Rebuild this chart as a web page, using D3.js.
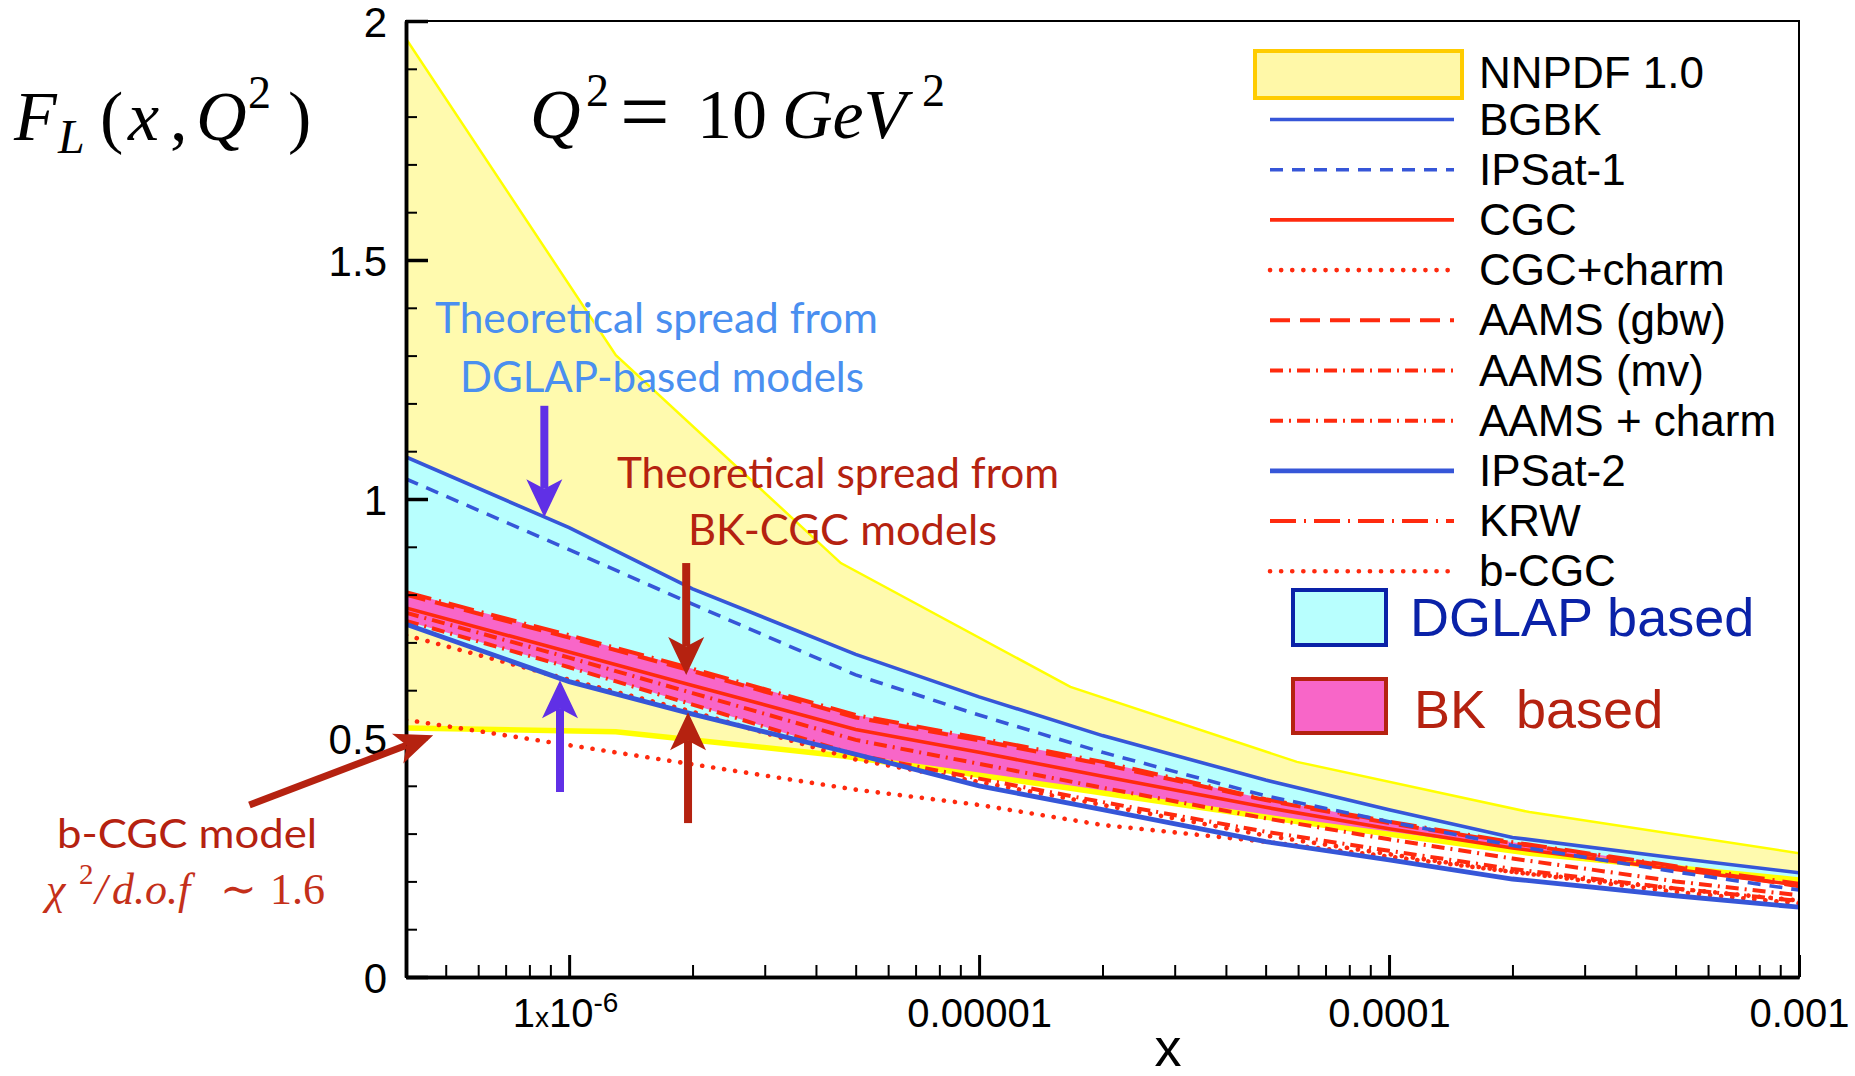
<!DOCTYPE html>
<html>
<head>
<meta charset="utf-8">
<script src="https://cdn.jsdelivr.net/npm/d3@7"></script>
<style>
  body { margin: 0; background: #fff; }
  svg { display: block; font-family: "Liberation Sans", Arial, sans-serif; }
</style>
</head>
<body>
<svg id="chart" width="1855" height="1076"></svg>
<script>
// ---- data ----
const xGrid = [4e-7, 1e-6, 2e-6, 5e-6, 1e-5, 2e-5, 5e-5, 1e-4, 2e-4, 5e-4, 1e-3];

const nnpdfX     = [4e-7, 1.3e-6, 4.6e-6, 1.67e-5, 5.96e-5, 2.2e-4, 1e-3];
const nnpdfUpper = [1.963, 1.301, 0.866, 0.607, 0.450, 0.345, 0.259];
const nnpdfLower = [0.521, 0.513, 0.463, 0.395, 0.325, 0.259, 0.203];

const bgbk      = [1.088, 0.940, 0.812, 0.675, 0.586, 0.505, 0.412, 0.350, 0.292, 0.249, 0.218];
const ipsat1    = [1.042, 0.894, 0.780, 0.632, 0.548, 0.470, 0.379, 0.325, 0.275, 0.220, 0.182];
const ipsat2    = [0.738, 0.618, 0.550, 0.466, 0.400, 0.350, 0.283, 0.245, 0.205, 0.170, 0.146];
const cgc       = [0.772, 0.680, 0.610, 0.518, 0.470, 0.420, 0.355, 0.310, 0.270, 0.225, 0.192];
const cgcCharm  = [0.715, 0.622, 0.555, 0.455, 0.408, 0.360, 0.296, 0.257, 0.220, 0.178, 0.154];
const aamsGbw   = [0.800, 0.710, 0.640, 0.543, 0.495, 0.445, 0.370, 0.322, 0.280, 0.230, 0.190];
const aamsMv    = [0.762, 0.668, 0.594, 0.496, 0.446, 0.396, 0.332, 0.288, 0.248, 0.200, 0.171];
const aamsCharm = [0.745, 0.648, 0.570, 0.465, 0.415, 0.366, 0.304, 0.264, 0.226, 0.185, 0.159];
const krw       = [0.805, 0.715, 0.645, 0.548, 0.500, 0.450, 0.372, 0.325, 0.282, 0.232, 0.195];
const bcgc      = [0.538, 0.485, 0.445, 0.392, 0.360, 0.318, 0.283, 0.252, 0.220, 0.185, 0.160];

const yTickLabels = ["0", "0.5", "1", "1.5", "2"];
const xTickLabels = ["1x10-6", "0.00001", "0.0001", "0.001"];
const legendLabels = ["BGBK", "IPSat-1", "CGC", "CGC+charm", "AAMS (gbw)", "AAMS (mv)",
                      "AAMS + charm", "IPSat-2", "KRW", "b-CGC"];

// arrows: x, tail value, tip value (data units)
const arrowsV = [
  {x: 8.7e-7, from: 1.195, to: 0.962, c: "#6030e6"},
  {x: 9.5e-7, from: 0.387, to: 0.621, c: "#6030e6"},
  {x: 1.93e-6, from: 0.866, to: 0.632, c: "#b52210"},
  {x: 1.95e-6, from: 0.322, to: 0.554, c: "#b52210"}
];

// ---- layout ----
const RED = "#ff2a0e", BLUE = "#3656d8";
const svg = d3.select("#chart");
const x = d3.scaleLog().domain([4e-7, 1e-3]).range([406, 1799]);
const y = d3.scaleLinear().domain([0, 2]).range([977, 21]);

svg.append("defs").append("clipPath").attr("id", "clip")
  .append("rect").attr("x", 406).attr("y", 21).attr("width", 1393).attr("height", 956);

const plot = svg.append("g").attr("clip-path", "url(#clip)");

const nn = nnpdfX.map((d, i) => ({x: d, lo: nnpdfLower[i], hi: nnpdfUpper[i]}));
const band = (hi, lo) => xGrid.map((d, i) => ({x: d, hi: hi[i], lo: lo[i]}));
const area = d3.area().x(d => x(d.x)).y0(d => y(d.lo)).y1(d => y(d.hi));

// NNPDF band
plot.append("path").attr("d", area(nn)).attr("fill", "#fffaae");
// DGLAP band
plot.append("path").attr("d", area(band(bgbk, ipsat2))).attr("fill", "#b8fffe");
// BK band
const bkSet = [cgc, aamsGbw, aamsMv, aamsCharm, krw];
const bkHi = xGrid.map((d, i) => d3.max(bkSet, s => s[i]));
const bkLo = xGrid.map((d, i) => d3.min(bkSet, s => s[i]));
plot.append("path").attr("d", area(band(bkHi, bkLo))).attr("fill", "#f866c8");
// white below NNPDF lower edge
plot.append("path")
  .attr("d", d3.area().x(d => x(d.x)).y0(y(0)).y1(d => y(d.lo))(nn))
  .attr("fill", "#fff");

const lineNN = key => d3.line().x(d => x(d.x)).y(d => y(d[key]))(nn);
plot.append("path").attr("d", lineNN("hi")).attr("fill", "none")
  .attr("stroke", "#ffff00").attr("stroke-width", 2.5);
plot.append("path").attr("d", lineNN("lo")).attr("fill", "none")
  .attr("stroke", "#ffff00").attr("stroke-width", 5.5);

const styles = [
  {s: bgbk,      c: BLUE, w: 3.6, dash: null},
  {s: ipsat1,    c: BLUE, w: 3.6, dash: "13,9"},
  {s: cgc,       c: RED,  w: 3.6, dash: null},
  {s: cgcCharm,  c: RED,  w: 4.6, dash: "0.1,11", cap: "round"},
  {s: aamsGbw,   c: RED,  w: 4,   dash: "20,10"},
  {s: aamsMv,    c: RED,  w: 4,   dash: "13,6,2,6"},
  {s: aamsCharm, c: RED,  w: 4,   dash: "13,6,2,6"},
  {s: ipsat2,    c: BLUE, w: 4.8, dash: null},
  {s: krw,       c: RED,  w: 4,   dash: "26,8,2,8"},
  {s: bcgc,      c: RED,  w: 4.6, dash: "0.1,11", cap: "round"}
];
const line = d3.line().x((d, i) => x(xGrid[i])).y(d => y(d));
const drawOrder = [3, 9, 4, 5, 6, 8, 2, 1, 0, 7];
drawOrder.forEach(k => {
  const st = styles[k];
  plot.append("path").attr("d", line(st.s)).attr("fill", "none")
    .attr("stroke", st.c).attr("stroke-width", st.w)
    .attr("stroke-dasharray", st.dash).attr("stroke-linecap", st.cap || "butt");
});

// ---- axes ----
const majorX = [1e-6, 1e-5, 1e-4, 1e-3];
const minorX = x.ticks().filter(t => !majorX.some(m => Math.abs(m - t) / m < 1e-6));
const majorY = [0, 0.5, 1, 1.5, 2];
const minorY = d3.range(0, 2.001, 0.1).filter(v => Math.abs(v * 2 - Math.round(v * 2)) > 1e-6);

// frame
svg.append("rect").attr("x", 406).attr("y", 21).attr("width", 1393).attr("height", 956)
  .attr("fill", "none").attr("stroke", "#000").attr("stroke-width", 2);

const gx = svg.append("g").attr("transform", "translate(0,977)");
gx.call(d3.axisBottom(x).tickValues(minorX).tickSize(-12).tickFormat("").tickSizeOuter(0));
const gxM = svg.append("g").attr("transform", "translate(0,977)");
gxM.call(d3.axisBottom(x).tickValues(majorX).tickSize(-22).tickSizeOuter(0).tickPadding(22)
  .tickFormat((d, i) => xTickLabels[i]));
const gy = svg.append("g").attr("transform", "translate(406,0)");
gy.call(d3.axisLeft(y).tickValues(minorY).tickSize(-11).tickFormat("").tickSizeOuter(0));
const gyM = svg.append("g").attr("transform", "translate(406,0)");
gyM.call(d3.axisLeft(y).tickValues(majorY).tickSize(-22).tickSizeOuter(0).tickPadding(19)
  .tickFormat((d, i) => yTickLabels[i]));

[gx, gxM, gy, gyM].forEach(g => {
  g.select(".domain").attr("stroke-width", 3.5);
  g.selectAll(".tick line").attr("stroke-width", 2);
  g.selectAll("text").attr("font-family", "Liberation Sans").attr("fill", "#000");
});
gxM.selectAll("text").attr("font-size", 40);
gyM.selectAll("text").attr("font-size", 42).attr("dy", "0.36em");
gxM.selectAll(".tick line").attr("stroke-width", 3);
gyM.selectAll(".tick line").attr("stroke-width", 3.5);

// 1x10^-6 label
gxM.selectAll(".tick text").filter((d, i) => i === 0).each(function() {
  const t = d3.select(this).text(null).attr("text-anchor", "start").attr("x", -57);
  t.append("tspan").text("1");
  t.append("tspan").attr("font-size", 28).text("x");
  t.append("tspan").text("10");
  t.append("tspan").attr("font-size", 28).attr("dy", -15).text("-6");
});

svg.append("text").attr("x", 1168).attr("y", 1066).attr("text-anchor", "middle")
  .attr("font-size", 54).text("x");

// ---- titles ----
const serif = '"Liberation Serif", "DejaVu Serif", serif';
const yTitle = svg.append("text").attr("font-family", serif).attr("font-size", 70);
[
  {t: "F", x: 14, y: 140, it: true},
  {t: "L", x: 58, y: 153, it: true, fs: 48},
  {t: "(", x: 100, y: 140},
  {t: "x", x: 128, y: 140, it: true},
  {t: ",", x: 170, y: 140},
  {t: "Q", x: 196, y: 140, it: true},
  {t: "2", x: 248, y: 108, fs: 46},
  {t: ")", x: 288, y: 140}
].forEach(p => yTitle.append("tspan").attr("x", p.x).attr("y", p.y)
  .attr("font-style", p.it ? "italic" : null).attr("font-size", p.fs || null).text(p.t));

const qTitle = svg.append("text").attr("font-family", serif).attr("font-size", 70);
[
  {t: "Q", x: 530, y: 138, it: true},
  {t: "2", x: 586, y: 106, fs: 46},
  {t: "=", x: 620, y: 141, fs: 88},
  {t: "10", x: 697, y: 138},
  {t: "GeV", x: 782, y: 138, it: true},
  {t: "2", x: 922, y: 106, fs: 46}
].forEach(p => qTitle.append("tspan").attr("x", p.x).attr("y", p.y)
  .attr("font-style", p.it ? "italic" : null).attr("font-size", p.fs || null).text(p.t));

// ---- annotations ----
const sans = 'Lato, "Open Sans", sans-serif';
function note(txt, x0, y0, w, c, fs) {
  svg.append("text").attr("x", x0).attr("y", y0).attr("font-family", sans)
    .attr("font-size", fs).attr("fill", c)
    .attr("textLength", w).attr("lengthAdjust", "spacingAndGlyphs").text(txt);
}
note("Theoretical spread from", 435, 333, 443, "#4a8ff0", 43);
note("DGLAP-based models", 460, 392, 404, "#4a8ff0", 43);
note("Theoretical spread from", 617, 488, 442, "#b52210", 43);
note("BK-CGC models", 688, 545, 309, "#b52210", 43);
note("b-CGC model", 57, 848, 260, "#b52210", 41);

const chi = svg.append("text").attr("font-family", serif).attr("font-size", 44).attr("fill", "#c4301a");
[
  {t: "\u03c7", x: 46, y: 904, it: true},
  {t: "2", x: 79, y: 884, fs: 29},
  {t: "/", x: 95, y: 904, it: true},
  {t: "d.o.f", x: 112, y: 904, it: true},
  {t: "\u223c", x: 220, y: 904},
  {t: "1.6", x: 270, y: 904}
].forEach(p => chi.append("tspan").attr("x", p.x).attr("y", p.y)
  .attr("font-style", p.it ? "italic" : null).attr("font-size", p.fs || null).text(p.t));

// arrows
function arrow(x1, y1, x2, y2, c, w, hl, hw) {
  const a = Math.atan2(y2 - y1, x2 - x1);
  const ux = Math.cos(a), uy = Math.sin(a), px = -uy, py = ux;
  const bx = x2 - ux * hl, by = y2 - uy * hl;
  const nx = x2 - ux * hl * 0.75, ny = y2 - uy * hl * 0.75;
  svg.append("line").attr("x1", x1).attr("y1", y1).attr("x2", nx).attr("y2", ny)
    .attr("stroke", c).attr("stroke-width", w);
  svg.append("path").attr("fill", c).attr("d",
    `M${x2},${y2}L${bx + px * hw / 2},${by + py * hw / 2}L${nx},${ny}L${bx - px * hw / 2},${by - py * hw / 2}Z`);
}
arrowsV.forEach(a => arrow(x(a.x), y(a.from), x(a.x), y(a.to), a.c, 8, 38, 36));
arrow(x(1.66e-7), y(0.36), x(4.66e-7), y(0.506), "#b52210", 7, 38, 32);

// ---- legend ----
const lg = svg.append("g");
lg.append("rect").attr("x", 1255).attr("y", 51).attr("width", 207).attr("height", 47)
  .attr("fill", "#fff8a8").attr("stroke", "#ffcc00").attr("stroke-width", 4);
lg.append("text").attr("x", 1479).attr("y", 88).attr("font-size", 44).text("NNPDF 1.0");
legendLabels.forEach((lab, i) => {
  const yy = 119.5 + i * 50.2, st = styles[i];
  lg.append("line").attr("x1", 1270).attr("x2", 1454).attr("y1", yy).attr("y2", yy)
    .attr("stroke", st.c).attr("stroke-width", st.w)
    .attr("stroke-dasharray", st.dash).attr("stroke-linecap", st.cap || "butt");
  lg.append("text").attr("x", 1479).attr("y", yy + 15).attr("font-size", 44).text(lab);
});
lg.append("rect").attr("x", 1293).attr("y", 590).attr("width", 93).attr("height", 55)
  .attr("fill", "#b8fffe").attr("stroke", "#0a22a8").attr("stroke-width", 4);
lg.append("text").attr("x", 1410).attr("y", 636).attr("font-size", 54).attr("fill", "#0a22a8")
  .text("DGLAP based");
lg.append("rect").attr("x", 1293).attr("y", 679).attr("width", 93).attr("height", 54)
  .attr("fill", "#f866c8").attr("stroke", "#b52210").attr("stroke-width", 4);
lg.append("text").attr("x", 1414).attr("y", 728).attr("font-size", 54).attr("fill", "#b52210")
  .style("white-space", "pre").text("BK  based");
</script>
</body>
</html>
